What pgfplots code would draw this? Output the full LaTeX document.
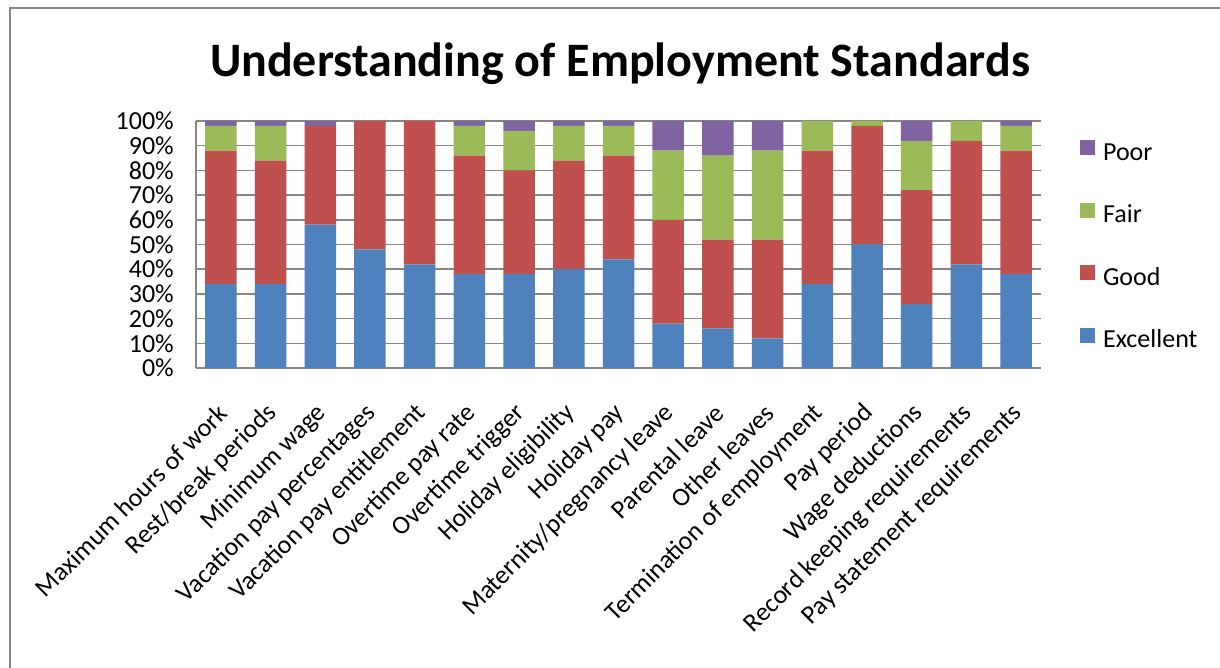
\documentclass[border=0pt]{standalone}
\usepackage{pgfplots}
\pgfplotsset{compat=1.18}
\usepackage{pgfplotstable}
\usepackage{fontspec}
\setmainfont{Carlito}
\definecolor{cE}{RGB}{79,129,189}
\definecolor{cG}{RGB}{192,80,77}
\definecolor{cF}{RGB}{155,187,89}
\definecolor{cP}{RGB}{128,100,162}
\definecolor{gridc}{RGB}{134,134,134}

\pgfplotstableread{
idx E G F P
0 34 54 10 2
1 34 50 14 2
2 58 40 0 2
3 48 52 0 0
4 42 58 0 0
5 38 48 12 2
6 38 42 16 4
7 40 44 14 2
8 44 42 12 2
9 18 42 28 12
10 16 36 34 14
11 12 40 36 12
12 34 54 12 0
13 50 48 2 0
14 26 46 20 8
15 42 50 8 0
16 38 50 10 2
}\datatable

\begin{document}
\begin{tikzpicture}
\useasboundingbox (-196pt,-300pt) rectangle (1024pt,368pt);
\draw[gridc, line width=1.5pt] (-186pt,-310pt) -- (-186pt,360pt) -- (1040pt,360pt);
\node[font=\fontsize{48}{57}\selectfont\bfseries, anchor=base, inner sep=0pt] at (424pt,291pt) {Understanding of Employment Standards};
\begin{axis}[
  at={(0pt,0pt)}, anchor=south west,
  scale only axis, width=845pt, height=247pt,
  ybar stacked, bar width=31.5pt,
  xmin=-0.5, xmax=16.5, ymin=0, ymax=100,
  xtick={0,...,16},
  xticklabels={Maximum hours of work, Rest/break periods, Minimum wage, Vacation pay percentages, Vacation pay entitlement, Overtime pay rate, Overtime trigger, Holiday eligibility, Holiday pay, Maternity/pregnancy leave, Parental leave, Other leaves, Termination of employment, Pay period, Wage deductions, Record keeping requirements, Pay statement requirements},
  ytick={0,10,...,100},
  yticklabels={0\%,10\%,20\%,30\%,40\%,50\%,60\%,70\%,80\%,90\%,100\%},
  axis x line*=bottom, axis y line*=left,
  axis line style={-, gridc, line width=1.5pt},
  major tick length=0pt,
  ymajorgrids, grid style={gridc, line width=1.5pt},
  tick label style={font=\fontsize{26}{31}\selectfont},
  xticklabel style={xshift=2pt, yshift=-41pt, rotate=45, anchor=east, inner sep=0pt},
  yticklabel style={anchor=east, inner sep=0pt, xshift=-22pt},
  legend style={at={(axis description cs:1.046,0.49)}, anchor=west, draw=none, fill=none,
    font=\fontsize{26}{31}\selectfont, row sep=36.5pt, inner sep=0pt,
    nodes={inner sep=0pt, text height=18pt, text depth=6pt},
    /tikz/every odd column/.style={column sep=8pt}},
  legend cell align=left,
  reverse legend,
  legend image code/.code={\draw[#1,draw=none] (0pt,-1pt) rectangle (15pt,14pt);},
]
\addplot[fill=cE, draw=none] table[x=idx, y=E] {\datatable};
\addplot[fill=cG, draw=none] table[x=idx, y=G] {\datatable};
\addplot[fill=cF, draw=none] table[x=idx, y=F] {\datatable};
\addplot[fill=cP, draw=none] table[x=idx, y=P] {\datatable};
\legend{Excellent, Good, Fair, Poor}
\end{axis}
\end{tikzpicture}
\end{document}
